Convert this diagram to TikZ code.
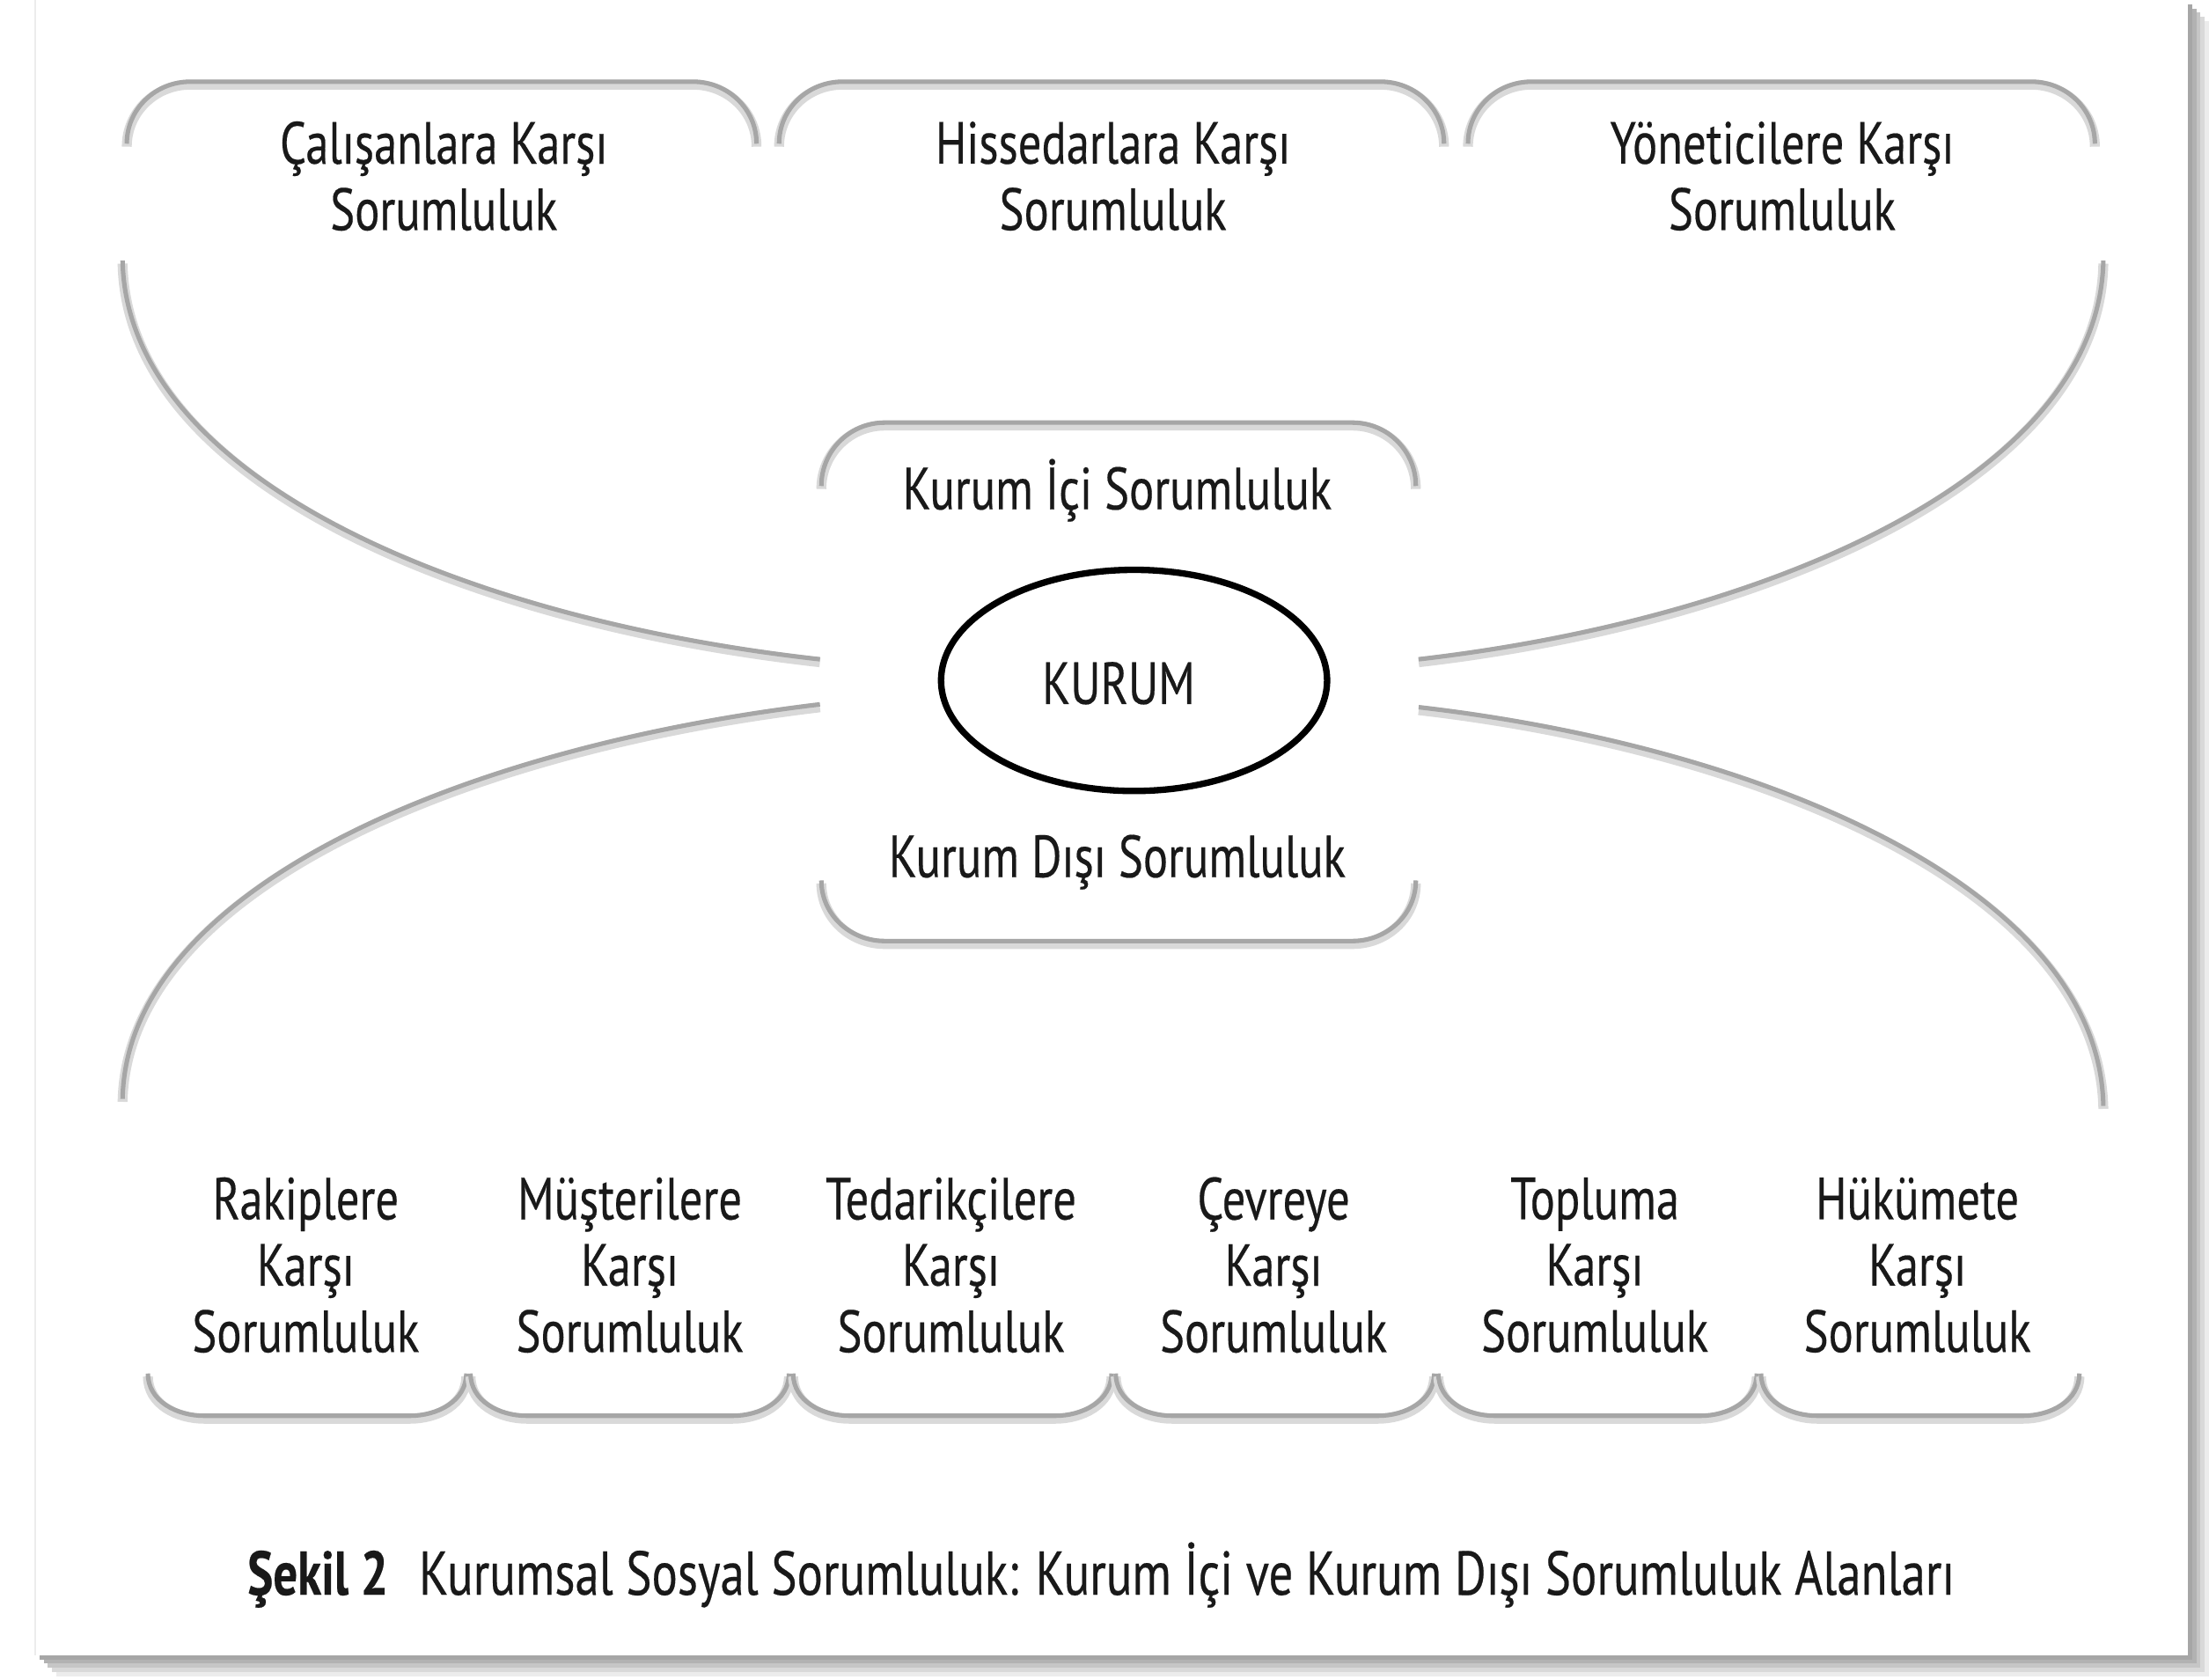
\documentclass[tikz,border=0pt]{standalone}
\usepackage{fontspec}
\setmainfont{PT Sans}[FakeStretch=0.78,FakeBold=0.3]
\usetikzlibrary{shapes.geometric}

\tikzset{
  brk/.style={draw=gray!70,line width=.9pt,
    preaction={draw=gray!30,line width=2pt,transform canvas={yshift=-.6pt}}},
  lbl/.style={align=center,font=\fontsize{12}{13.4}\selectfont,text=black!90}
}

\begin{document}
\begin{tikzpicture}[x=.1mm,y=-.1mm]
\useasboundingbox(0,0)rectangle(1568,1192);
% page with its shadow
\foreach \s/\c in {15/15,12/30,9/45,6/60,3/70}
  \fill[gray!\c](25+\s,\s)rectangle(1553+\s,1175+\s);
\fill[white](25,0)rectangle(1553,1175);
\draw[gray!15](25,0)--(25,1175);

% upper fields
\foreach \a/\b in {90/537,553/1025,1042/1487}
  \draw[brk](\a,102)to[out=90,in=180](\a+45,58)--(\b-45,58)to[out=0,in=90](\b,102);
\node[lbl](calisan)at(315,125){Çalışanlara Karşı\\Sorumluluk};
\node[lbl](hisse)at(790,125){Hissedarlara Karşı\\Sorumluluk};
\node[lbl](yonetici)at(1265,125){Yöneticilere Karşı\\Sorumluluk};

% centre
\draw[brk](583,345)to[out=90,in=180](628,300)--(960,300)to[out=0,in=90](1005,345);
\draw[brk](583,625)to[out=-90,in=180](628,668)--(960,668)to[out=0,in=-90](1005,625);
\node[lbl](ici)at(793,348){Kurum İçi Sorumluluk};
\node[lbl](disi)at(793,612){Kurum Dışı Sorumluluk};
\node[draw=black,line width=1.3pt,ellipse,inner sep=0pt,minimum width=27.4mm,minimum height=15.7mm](kurum)at(805,483){};
\node[lbl](kurumtxt)at(794,485){KURUM};

% big arms
\coordinate(ut1)at(87,185);\coordinate(ut2)at(1493,185);
\coordinate(ub1)at(87,780);\coordinate(ub2)at(1493,785);
\coordinate(ci1)at(582,468);\coordinate(ci2)at(1007,468);
\coordinate(cd1)at(582,500);\coordinate(cd2)at(1007,502);
\draw[brk](ut1)..controls(90,340)and(330,440)..(ci1);
\draw[brk](ut2)..controls(1490,340)and(1250,440)..(ci2);
\draw[brk](cd1)..controls(330,530)and(90,630)..(ub1);
\draw[brk](cd2)..controls(1250,530)and(1490,630)..(ub2);

% lower fields
\foreach \a in {105,334,563,792,1021,1250}
  \draw[brk](\a,975)to[out=-90,in=180](\a+40,1005)--(\a+186,1005)to[out=0,in=-90](\a+226,975);
\node[lbl](rakip)at(217,898){Rakiplere\\Karşı\\Sorumluluk};
\node[lbl](musteri)at(447,898){Müşterilere\\Karşı\\Sorumluluk};
\node[lbl](tedarik)at(675,898){Tedarikçilere\\Karşı\\Sorumluluk};
\node[lbl](cevre)at(904,898){Çevreye\\Karşı\\Sorumluluk};
\node[lbl](toplum)at(1132,898){Topluma\\Karşı\\Sorumluluk};
\node[lbl](hukumet)at(1361,898){Hükümete\\Karşı\\Sorumluluk};

% caption
\node[lbl,font=\fontsize{12.5}{14}\selectfont,anchor=west,inner sep=0pt](sekil)at(175,1118){\textbf{Şekil 2}\hspace{.5em}Kurumsal Sosyal Sorumluluk: Kurum İçi ve Kurum Dışı Sorumluluk Alanları};
\end{tikzpicture}
\end{document}
